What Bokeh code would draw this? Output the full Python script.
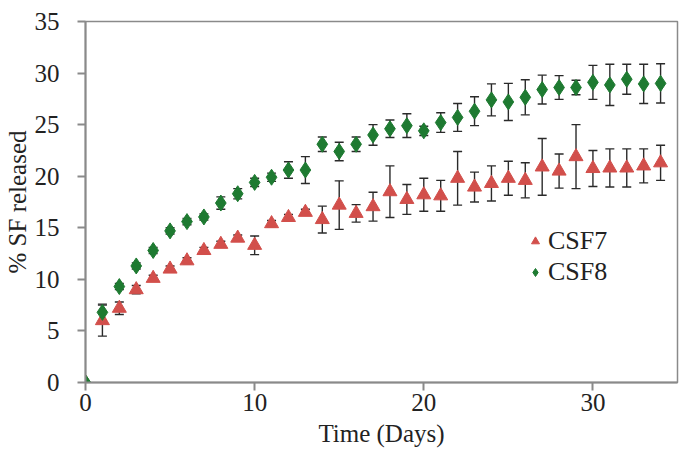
from bokeh.plotting import figure
from bokeh.models import ColumnDataSource, Whisker, TeeHead, Legend, LegendItem, Range1d, FixedTicker
from bokeh.embed import file_html
from bokeh.resources import INLINE

days = list(range(0, 35))
csf7 = [0, 6.0, 7.2, 9.0, 10.1, 11.0, 11.8, 12.8, 13.4, 14.0, 13.3, 15.4, 16.0, 16.5, 15.8,
        17.2, 16.4, 17.05, 18.5, 17.75, 18.2, 18.1, 19.8, 18.95, 19.3, 19.8, 19.6, 20.9,
        20.5, 21.9, 20.75, 20.8, 20.8, 21.0, 21.3]
csf7_err = [0, 1.5, 0.6, 0.4, 0.3, 0.3, 0.3, 0.3, 0.3, 0.3, 0.9, 0.3, 0.3, 0.3, 1.3,
            2.35, 0.85, 1.4, 2.5, 1.45, 1.6, 1.5, 2.6, 1.45, 1.7, 1.65, 1.7, 2.75,
            1.65, 3.1, 1.75, 1.85, 1.85, 1.65, 1.7]
csf8 = [0, 6.8, 9.3, 11.3, 12.8, 14.7, 15.6, 16.05, 17.4, 18.3, 19.4, 19.9, 20.6, 20.6, 23.1,
        22.4, 23.1, 24.0, 24.6, 24.9, 24.4, 25.2, 25.7, 26.3, 27.4, 27.2, 27.65, 28.4,
        28.6, 28.6, 29.1, 28.85, 29.4, 28.95, 29.0]
csf8_err = [0, 0.8, 0.3, 0.3, 0.3, 0.3, 0.3, 0.3, 0.6, 0.5, 0.4, 0.4, 0.8, 1.3, 0.7,
            0.9, 0.7, 1.0, 0.85, 1.15, 0.45, 0.95, 1.35, 1.4, 1.55, 1.8, 1.7, 1.4,
            1.15, 0.7, 1.65, 2.0, 1.45, 1.9, 1.9]
x_ticks = [0, 10, 20, 30]
y_ticks = [0, 5, 10, 15, 20, 25, 30, 35]

RED = "#d24f4b"
GREEN = "#1e7a31"
GRAY = "#8a8a8a"
FONT = "'Liberation Serif', 'Times New Roman', serif"

p = figure(width=683, height=454, output_backend="svg", toolbar_location=None,
           x_range=Range1d(0, 35), y_range=Range1d(0, 35),
           min_border_left=85, min_border_right=6, min_border_top=21, min_border_bottom=72)
p.xgrid.visible = False
p.ygrid.visible = False
p.outline_line_color = GRAY
p.outline_line_width = 1.5
p.background_fill_color = "white"
p.border_fill_color = "white"

for ax in (p.xaxis[0], p.yaxis[0]):
    ax.axis_line_color = GRAY
    ax.axis_line_width = 2
    ax.major_tick_line_color = GRAY
    ax.major_tick_line_width = 2
    ax.major_tick_in = 0
    ax.major_tick_out = 8
    ax.minor_tick_line_color = None
    ax.major_label_text_font = FONT
    ax.major_label_text_font_size = "25px"
    ax.major_label_text_color = "#222222"
    ax.axis_label_text_font = FONT
    ax.axis_label_text_font_size = "25px"
    ax.axis_label_text_font_style = "normal"
    ax.axis_label_text_color = "#222222"

p.xaxis.ticker = FixedTicker(ticks=x_ticks)
p.yaxis.ticker = FixedTicker(ticks=y_ticks)
p.xaxis.axis_label = "Time (Days)"
p.yaxis.axis_label = "% SF released"
p.xaxis.major_label_standoff = 3
p.xaxis.axis_label_standoff = 6
p.yaxis.major_label_standoff = 18
p.yaxis.axis_label_standoff = 1

def err_source(x, y, e):
    xs, lo, hi = [], [], []
    for xi, yi, ei in zip(x, y, e):
        if ei > 0:
            xs.append(xi); lo.append(yi - ei); hi.append(yi + ei)
    return ColumnDataSource(dict(x=xs, lower=lo, upper=hi))

for y, e in ((csf7, csf7_err), (csf8, csf8_err)):
    w = Whisker(source=err_source(days, y, e), base="x", lower="lower", upper="upper",
                line_color="#2a2a2a", line_width=1.4,
                upper_head=TeeHead(size=9, line_color="#2a2a2a", line_width=1.4),
                lower_head=TeeHead(size=9, line_color="#2a2a2a", line_width=1.4))
    p.add_layout(w)

r7 = p.scatter(days, csf7, marker="triangle", size=14, fill_color=RED, line_color=RED)
r8 = p.scatter(days, csf8, marker="diamond", size=16, fill_color=GREEN, line_color=GREEN)

legend = Legend(items=[LegendItem(label="CSF7", renderers=[r7]),
                       LegendItem(label="CSF8", renderers=[r8])],
                location=(440, 95), border_line_color=None, background_fill_alpha=0,
                label_text_font=FONT, label_text_font_size="26px", label_text_color="#222222",
                glyph_width=20, glyph_height=20, label_standoff=3, spacing=1,
                padding=0, margin=0, label_height=30)
p.add_layout(legend)

open("out.html", "w").write(file_html(p, INLINE))
